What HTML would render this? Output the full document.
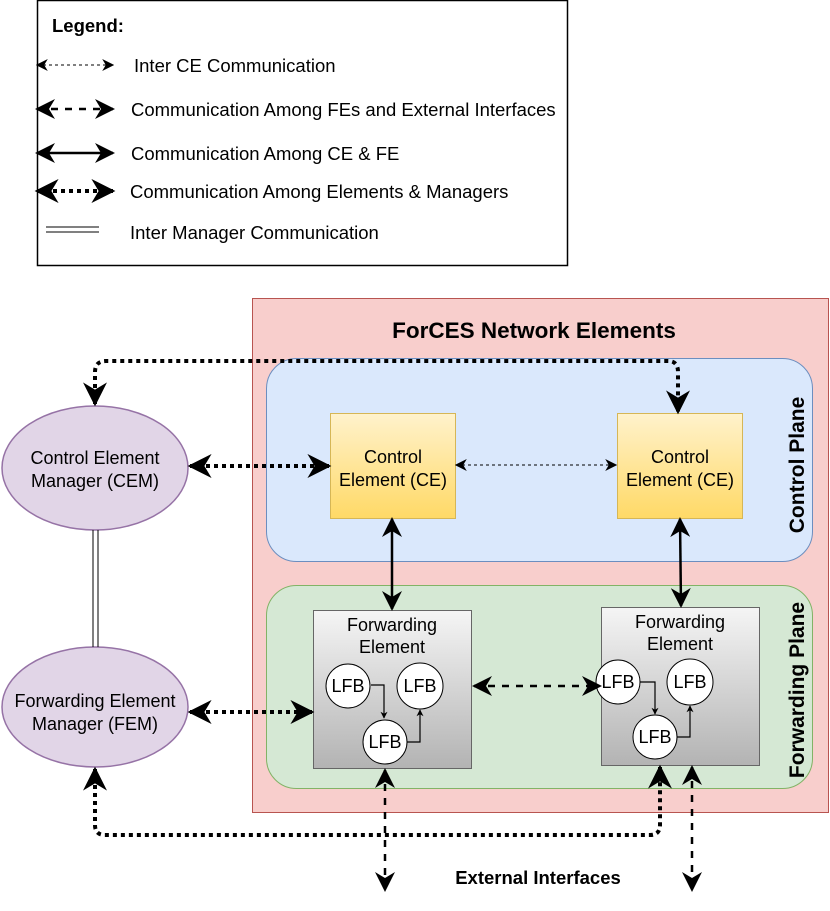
<!DOCTYPE html>
<html><head><style>body{margin:0;background:#fff}svg{display:block}text{font-family:"Liberation Sans",sans-serif;fill:#000}</style></head>
<body>
<svg width="830" height="911" viewBox="0 0 830 911" xmlns="http://www.w3.org/2000/svg">
<defs>
<marker id="a" viewBox="0 0 10 10" refX="9" refY="5" markerWidth="7" markerHeight="7" orient="auto-start-reverse" markerUnits="userSpaceOnUse"><path d="M0,0L10,5L0,10L3,5z" fill="#000"/></marker>
<marker id="m" viewBox="0 0 10 10" refX="9" refY="5" markerWidth="12" markerHeight="12" orient="auto-start-reverse" markerUnits="userSpaceOnUse"><path d="M0,0L10,5L0,10L3,5z" fill="#000"/></marker>
<marker id="b" viewBox="0 0 10 10" refX="9" refY="5" markerWidth="20" markerHeight="20" orient="auto-start-reverse" markerUnits="userSpaceOnUse"><path d="M0,0L10,5L0,10L3,5z" fill="#000"/></marker>
<marker id="c" viewBox="0 0 10 10" refX="9" refY="5" markerWidth="24" markerHeight="24" orient="auto-start-reverse" markerUnits="userSpaceOnUse"><path d="M0,0L10,5L0,10L3,5z" fill="#000"/></marker>
<linearGradient id="y" x1="0" y1="0" x2="0" y2="1"><stop offset="0" stop-color="#fff2cc"/><stop offset="1" stop-color="#ffd966"/></linearGradient>
<linearGradient id="g" x1="0" y1="0" x2="0" y2="1"><stop offset="0" stop-color="#f5f5f5"/><stop offset="1" stop-color="#b3b3b3"/></linearGradient>
</defs>
<!-- legend -->
<rect x="37.5" y="0.5" width="530" height="265" fill="#fff" stroke="#000" stroke-width="1.5"/>
<text x="52" y="32" font-size="18.5" font-weight="bold">Legend:</text>
<line x1="37" y1="65" x2="113" y2="65" stroke="#000" stroke-width="1" stroke-dasharray="3,3" marker-start="url(#m)" marker-end="url(#m)"/>
<text x="134" y="72" font-size="18.5">Inter CE Communication</text>
<line x1="37" y1="109" x2="113" y2="109" stroke="#000" stroke-width="2.5" stroke-dasharray="7,7" marker-start="url(#b)" marker-end="url(#b)"/>
<text x="131" y="116" font-size="18.5">Communication Among FEs and External Interfaces</text>
<line x1="37" y1="153" x2="113" y2="153" stroke="#000" stroke-width="2.5" marker-start="url(#b)" marker-end="url(#b)"/>
<text x="131" y="160" font-size="18.5">Communication Among CE &amp; FE</text>
<line x1="37" y1="191" x2="113" y2="191" stroke="#000" stroke-width="4" stroke-dasharray="4,4" marker-start="url(#c)" marker-end="url(#c)"/>
<text x="130" y="198" font-size="18.5">Communication Among Elements &amp; Managers</text>
<line x1="46" y1="227" x2="99" y2="227" stroke="#000" stroke-width="1"/>
<line x1="46" y1="232" x2="99" y2="232" stroke="#000" stroke-width="1"/>
<text x="130" y="239" font-size="18.5">Inter Manager Communication</text>
<!-- containers -->
<rect x="252.5" y="298.5" width="576" height="514" fill="#f8cecc" stroke="#b85450"/>
<text x="534" y="338" font-size="22.5" font-weight="bold" text-anchor="middle">ForCES Network Elements</text>
<rect x="266.5" y="358.5" width="546" height="203" rx="30" fill="#dae8fc" stroke="#6c8ebf"/>
<text transform="translate(804,465) rotate(-90)" font-size="21" font-weight="bold" text-anchor="middle">Control Plane</text>
<rect x="266.5" y="585.5" width="546" height="203" rx="30" fill="#d5e8d4" stroke="#82b366"/>
<text transform="translate(804,690) rotate(-90)" font-size="21" font-weight="bold" text-anchor="middle">Forwarding Plane</text>
<!-- CEs -->
<rect x="330.5" y="413.5" width="125" height="105" fill="url(#y)" stroke="#d6b656"/>
<text x="393" y="463" font-size="18" text-anchor="middle">Control</text><text x="393" y="486" font-size="18" text-anchor="middle">Element (CE)</text>
<rect x="617.5" y="413.5" width="125" height="105" fill="url(#y)" stroke="#d6b656"/>
<text x="680" y="463" font-size="18" text-anchor="middle">Control</text><text x="680" y="486" font-size="18" text-anchor="middle">Element (CE)</text>
<!-- FEs -->
<rect x="313.5" y="610.5" width="158" height="158" fill="url(#g)" stroke="#666"/>
<text x="392" y="631" font-size="18" text-anchor="middle">Forwarding</text><text x="392" y="653" font-size="18" text-anchor="middle">Element</text>
<rect x="601.5" y="607.5" width="158" height="158" fill="url(#g)" stroke="#666"/>
<text x="680" y="628" font-size="18" text-anchor="middle">Forwarding</text><text x="680" y="650" font-size="18" text-anchor="middle">Element</text>
<g stroke="#000" stroke-width="1.2" fill="none">
<path d="M371,685H384V718" marker-end="url(#a)"/><path d="M407,742H420V710" marker-end="url(#a)"/>
<path d="M640,682H655V714" marker-end="url(#a)"/><path d="M677,737H690V706" marker-end="url(#a)"/>
</g>
<g fill="#fff" stroke="#000" stroke-width="1">
<circle cx="348" cy="686" r="22"/><circle cx="420" cy="686" r="23"/><circle cx="385" cy="742" r="22"/>
<circle cx="618" cy="682" r="22"/><circle cx="690" cy="682" r="23"/><circle cx="655" cy="737" r="22"/>
</g>
<g font-size="18" text-anchor="middle">
<text x="348" y="692">LFB</text><text x="420" y="692">LFB</text><text x="385" y="748">LFB</text>
<text x="618" y="688">LFB</text><text x="690" y="688">LFB</text><text x="655" y="743">LFB</text>
</g>
<!-- managers -->
<ellipse cx="95" cy="468" rx="93" ry="62" fill="#e1d5e7" stroke="#9673a6" stroke-width="1.5"/>
<text x="95" y="464" font-size="18" text-anchor="middle">Control Element</text><text x="95" y="487" font-size="18" text-anchor="middle">Manager (CEM)</text>
<ellipse cx="95" cy="707" rx="93" ry="60" fill="#e1d5e7" stroke="#9673a6" stroke-width="1.5"/>
<text x="95" y="707" font-size="18" text-anchor="middle">Forwarding Element</text><text x="95" y="730" font-size="18" text-anchor="middle">Manager (FEM)</text>
<line x1="93" y1="530" x2="93" y2="647" stroke="#000"/><line x1="98" y1="530" x2="98" y2="647" stroke="#000"/>
<!-- connectors -->
<g fill="none" stroke="#000">
<line x1="456" y1="465" x2="616" y2="465" stroke-width="1" stroke-dasharray="3,3" marker-start="url(#m)" marker-end="url(#m)"/>
<line x1="392" y1="519" x2="392" y2="609" stroke-width="2.5" marker-start="url(#b)" marker-end="url(#b)"/>
<line x1="680" y1="519" x2="681" y2="606" stroke-width="2.5" marker-start="url(#b)" marker-end="url(#b)"/>
<line x1="474" y1="686" x2="600" y2="686" stroke-width="2.5" stroke-dasharray="7,7" marker-start="url(#b)" marker-end="url(#b)"/>
<line x1="385" y1="770" x2="385" y2="890" stroke-width="2.5" stroke-dasharray="7,7" marker-start="url(#b)" marker-end="url(#b)"/>
<line x1="692" y1="767" x2="692" y2="890" stroke-width="2.5" stroke-dasharray="7,7" marker-start="url(#b)" marker-end="url(#b)"/>
<path d="M95,404V372Q95,361 106,361H668Q678,361 678,372V412" stroke-width="4" stroke-dasharray="4,4" marker-start="url(#c)" marker-end="url(#c)"/>
<line x1="190" y1="466" x2="329" y2="466" stroke-width="4" stroke-dasharray="4,4" marker-start="url(#c)" marker-end="url(#c)"/>
<line x1="190" y1="712" x2="312" y2="712" stroke-width="4" stroke-dasharray="4,4" marker-start="url(#c)" marker-end="url(#c)"/>
<path d="M95,769V825Q95,835 105,835H650Q660,835 660,825V767" stroke-width="4" stroke-dasharray="4,4" marker-start="url(#c)" marker-end="url(#c)"/>
</g>
<text x="538" y="884" font-size="18.5" font-weight="bold" text-anchor="middle">External Interfaces</text>
</svg>
</body></html>
